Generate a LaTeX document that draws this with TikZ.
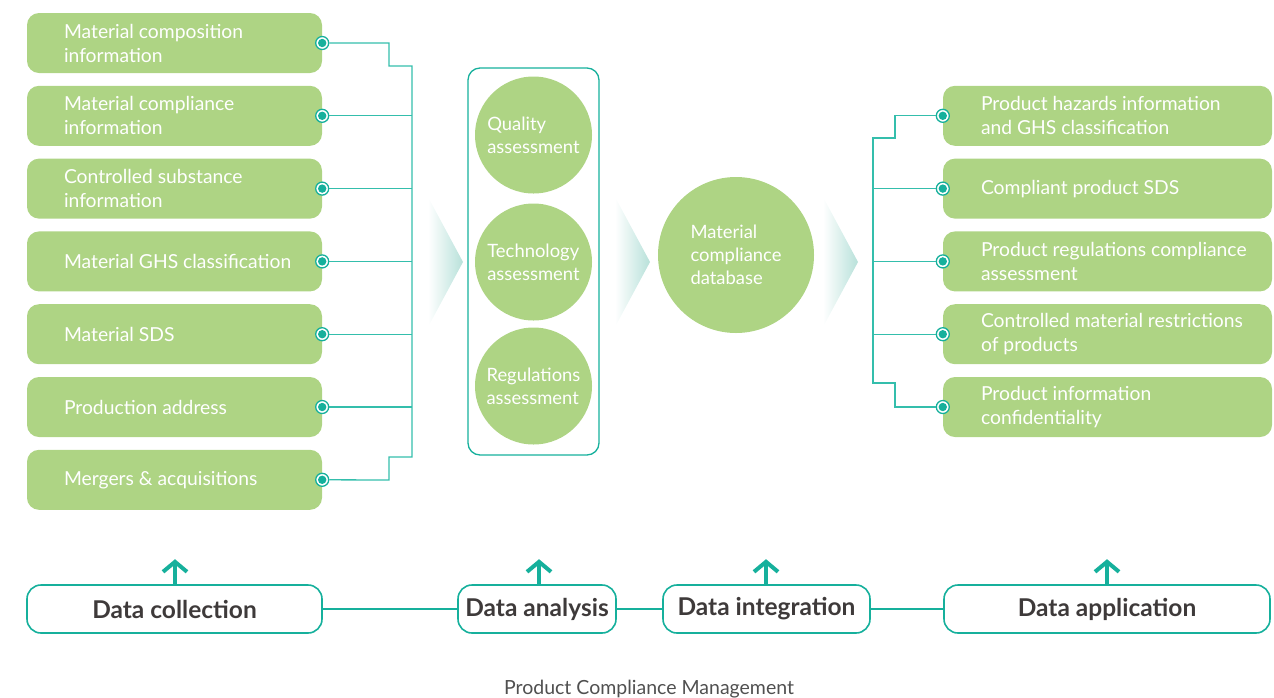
\documentclass[tikz,border=0pt]{standalone}
\usepackage{fontspec}
\setmainfont{Lato}
\usetikzlibrary{positioning,arrows.meta}
\definecolor{leaf}{RGB}{174,212,132}
\definecolor{tealdot}{RGB}{22,176,156}
\definecolor{tealline}{RGB}{52,190,172}
\definecolor{fadeteal}{RGB}{184,225,218}
\definecolor{ink}{RGB}{62,58,58}
\definecolor{capgray}{RGB}{80,80,80}

\begin{document}
\begin{tikzpicture}[x=1pt,y=-1pt,
  leafbox/.style={fill=leaf,rounded corners=12pt,minimum width=295pt,minimum height=60pt,inner sep=0pt},
  leaftext/.style={text=white,font=\fontsize{19.3}{24}\selectfont,align=left,inner sep=0pt,anchor=west},
  joint/.style={circle,draw=tealdot,fill=white,line width=1.3pt,minimum size=13pt,inner sep=0pt,
    path picture={\fill[tealdot] (path picture bounding box.center) circle (4.2pt);}},
  wire/.style={draw=tealline,line width=1.3pt},
  blob/.style={circle,fill=leaf,inner sep=0pt,text=white,align=left,font=\fontsize{18.4}{23}\selectfont},
  phase/.style={draw=tealdot,line width=1.6pt,rounded corners=14pt,minimum height=48pt,inner sep=0pt,
    font=\fontsize{24.5}{28}\selectfont\bfseries,text=ink},
  rise/.style={draw=tealdot,line width=4pt,-{Straight Barb[length=10pt 0,width=24pt 0]}}]
\useasboundingbox (0,0) rectangle (1274,697);

% sources
\foreach \t [count=\i] in {{Material composition\\information},{Material compliance\\information},
  {Controlled substance\\information},Material GHS classification,Material SDS,
  Production address,Mergers \& acquisitions}{
  \node[leafbox] (src\i) at (174.5,{43+72.8*(\i-1)}) {};
  \node[leaftext] at ([xshift=37pt]src\i.west) {\t};
  \node[joint] (sdot\i) at (src\i.east) {};
}
\coordinate (ltrunk) at (412,0);
\draw[wire] (sdot1.east) -| (389,66) -| (412,457) -| (389,480) -- (sdot7.east);
\foreach \i in {2,...,6} \draw[wire] (sdot\i.east) -- (sdot\i -| ltrunk);

% analysis
\draw[tealdot,line width=1.3pt,rounded corners=12pt] (468,68) rectangle (599,455);
\node[blob,minimum size=117pt] (qa) at (533.5,135) {Quality\\assessment};
\node[blob,minimum size=117pt] (ta) at (533.5,262) {Technology\\assessment};
\node[blob,minimum size=117pt] (ra) at (533.5,386) {Regulations\\assessment};

% database
\node[blob,minimum size=156pt] (db) at (736,255) {Material\\compliance\\database};

% chevrons
\foreach \x in {428,615,823}
  \shade[left color=white,right color=fadeteal] (\x,197) -- (\x+35,262) -- (\x,327) -- cycle;

% applications
\foreach \t [count=\i] in {{Product hazards information\\and GHS classification},Compliant product SDS,
  {Product regulations compliance\\assessment},{Controlled material restrictions\\of products},
  {Product information\\confidentiality}}{
  \node[leafbox,minimum width=329pt] (use\i) at (1107.5,{115.8+72.8*(\i-1)}) {};
  \node[leaftext] at ([xshift=38pt]use\i.west) {\t};
  \node[joint] (udot\i) at (use\i.west) {};
}
\coordinate (rtrunk) at (873,0);
\draw[wire] (udot1.west) -| (895,138) -| (873,383) -| (895,407) -- (udot5.west);
\foreach \i in {2,3,4} \draw[wire] (udot\i.west) -- (udot\i -| rtrunk);

% stages
\node[phase,minimum width=295pt] (b1) at (174.5,609) {Data collection};
\node[phase,minimum width=158pt] (b2) at (537,609) {Data analysis};
\node[phase,minimum width=207pt] (b3) at (766.5,609) {Data integration};
\node[phase,minimum width=326pt] (b4) at (1107,609) {Data application};
\draw[tealdot,line width=1.6pt] (b1) -- (b2) (b2) -- (b3) (b3) -- (b4);
\foreach \i/\s in {1/0.5,2/2,3/-0.5,4/0}
  \draw[rise] ([xshift=\s pt]b\i.north) -- ++(0,-25);

\node[text=capgray,font=\fontsize{19.5}{22}\selectfont] (cap) at (649,689) {Product Compliance Management};
\end{tikzpicture}
\end{document}
